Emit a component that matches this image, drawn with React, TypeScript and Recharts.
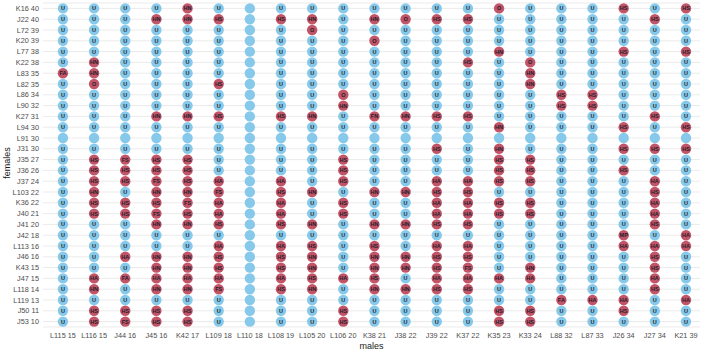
import { CartesianGrid, Label, Scatter, ScatterChart, XAxis, YAxis } from "recharts";

const females = [
  "K16 40", "J22 40", "L72 39", "K20 39", "L77 38", "K22 38", "L83 35", "L82 35",
  "L86 34", "L90 32", "K27 31", "L94 30", "L91 30", "J31 30", "J35 27", "J36 26",
  "J37 24", "L103 22", "K36 22", "J40 21", "J41 20", "J42 18", "L113 16", "J46 16",
  "K43 15", "J47 15", "L118 14", "L119 13", "J50 11", "J53 10",
];

const males = [
  "L115 15", "L116 15", "J44 16", "J45 16", "K42 17", "L109 18", "L110 18",
  "L108 19", "L105 20", "L106 20", "K38 21", "J38 22", "J39 22", "K37 22",
  "K35 23", "K33 24", "L88 32", "L87 33", "J26 34", "J27 34", "K21 39",
];

// one line per female, one code per male; "-" = no code
const codes = [
  "U U U U HN U - U U U U U U U O U U U HS U HS",
  "U U U HN HN HS - HS HN U HN O HS HS U U U U U HS U",
  "U U U U U U - U O U U U U U U U U U U U U",
  "U U U U U U - U U U O U U U U U U U U U U",
  "U U U U U U - U U U U U U U HN U U U HS U HS",
  "U HN U U U U - U U U U U U HS U O U U U U U",
  "FA HN U U U U - U U U U U U U U HN U U U U U",
  "U O U U U HS - U U U U U U U U HN U U U U U",
  "U U U U U U - U U O U U U U U U HS HS U U U",
  "U U U U U U - U U HN U U U U U U HS HS U U U",
  "U U U HN HN HS - HS HN U FN HN HS HS U U U U U HS U",
  "U U U U U U - U U U U U U U HN U U U HS U HS",
  "- - - - - - - - - - - - - - - - - - - - -",
  "U U U U U U - U U U U U HS U HN U U U HS HS HS",
  "U HS FS HS HS U - U U HS U U U U HS HS U U U U U",
  "U HS HS HS HS U - U U HS U U U U HS HS U U HS U U",
  "U HS HS FS HS HA - HA U HS U U HA HA HS HS U U U HA U",
  "U HN U HN HN FS - HS HN U HN HN HS HS U U U U U HS U",
  "U HS HS HS FS HA - HA U HS U U HA HA HS HS U U U HA U",
  "U HS HS FS HS HA - HA U HS U U HA HA HS HS U U U HA U",
  "U U U HN HN HS - HS HN U HN HN HS HS U U U U U HS U",
  "U U U U U U - U U U U U U U U U U U MP U HA",
  "U U U U U HA - HA HS U HS U HA HA U U U U HA HA HA",
  "U U HA HN HN HS - HS HN U HN HN HS HS U U U U U HS U",
  "U U U HN HN HS - HS HN U HN HN HS FS U HN U U U HS U",
  "U HA FA HA HA HA - HA HS HA HS U HA HA HA HA U U U HA U",
  "U HN U HN HN FS - HS HN U HN HN HS HS U U U U U HS U",
  "U U U U U U - U U U U U U U U U FA HA HA U HA",
  "U HS HS HS HS U - U U HS U U U U HS HS U U HS U U",
  "U HS FS HS HS U - U U HS U U U U HS HS U U U U U",
];

const points = codes.flatMap((row, fi) =>
  row.split(" ").map((code, mi) => ({ x: mi, y: fi, code: code === "-" ? "" : code }))
);

const BLUE = "#87c9ea";
const RED = "#c25468";

function Cell(props: any) {
  const { cx, cy, payload } = props;
  const code: string = payload.code;
  const fill = code === "" || code === "U" ? BLUE : RED;
  return (
    <g>
      <circle cx={cx} cy={cy} r={5.2} fill={fill} />
      {code && (
        <text
          x={cx}
          y={cy}
          textAnchor="middle"
          dominantBaseline="central"
          fontSize={5.5}
          fontWeight={600}
          fill="#1e1e2a"
        >
          {code}
        </text>
      )}
    </g>
  );
}

function FemaleTick(props: any) {
  const { x, y, payload } = props;
  return (
    <text x={x} y={y} textAnchor="end" dominantBaseline="central" fontSize={7.3} fill="#4d4d4d">
      {females[payload.value]}
    </text>
  );
}

export default function App() {
  return (
    <div style={{ position: "absolute", left: 0, top: 0 }}>
      <ScatterChart
        width={709}
        height={352}
        margin={{ top: 3, right: 9, left: 3, bottom: 10 }}
        style={{ fontFamily: "'Liberation Sans', Arial, sans-serif" }}
      >
        <CartesianGrid horizontal vertical={false} stroke="#ebebeb" />
        <XAxis
          type="number"
          dataKey="x"
          domain={[-0.64, 20.45]}
          ticks={males.map((_, i) => i)}
          tickFormatter={(i) => males[i]}
          interval={0}
          axisLine={false}
          tickLine={false}
          tickSize={0}
          tickMargin={6}
          height={15}
          tick={{ fontSize: 7.3, fill: "#4d4d4d" }}
          allowDataOverflow
        >
          <Label value="males" position="bottom" offset={1} style={{ fontSize: 9, fill: "#1a1a1a" }} />
        </XAxis>
        <YAxis
          type="number"
          dataKey="y"
          domain={[-0.5, 29.5]}
          reversed
          ticks={females.map((_, i) => i)}
          interval={0}
          axisLine={false}
          tickLine={false}
          tickSize={0}
          tickMargin={4}
          width={40}
          tick={<FemaleTick />}
          allowDataOverflow
        >
          <Label
            content={(p: any) => {
              const vb = p.viewBox;
              const x = vb.x + 4;
              const y = vb.y + vb.height / 2 - 2;
              return (
                <text
                  x={x}
                  y={y}
                  transform={`rotate(-90 ${x} ${y})`}
                  textAnchor="middle"
                  dominantBaseline="central"
                  fontSize={9}
                  fill="#1a1a1a"
                >
                  females
                </text>
              );
            }}
          />
        </YAxis>
        <Scatter data={points} shape={<Cell />} isAnimationActive={false} />
      </ScatterChart>
    </div>
  );
}
